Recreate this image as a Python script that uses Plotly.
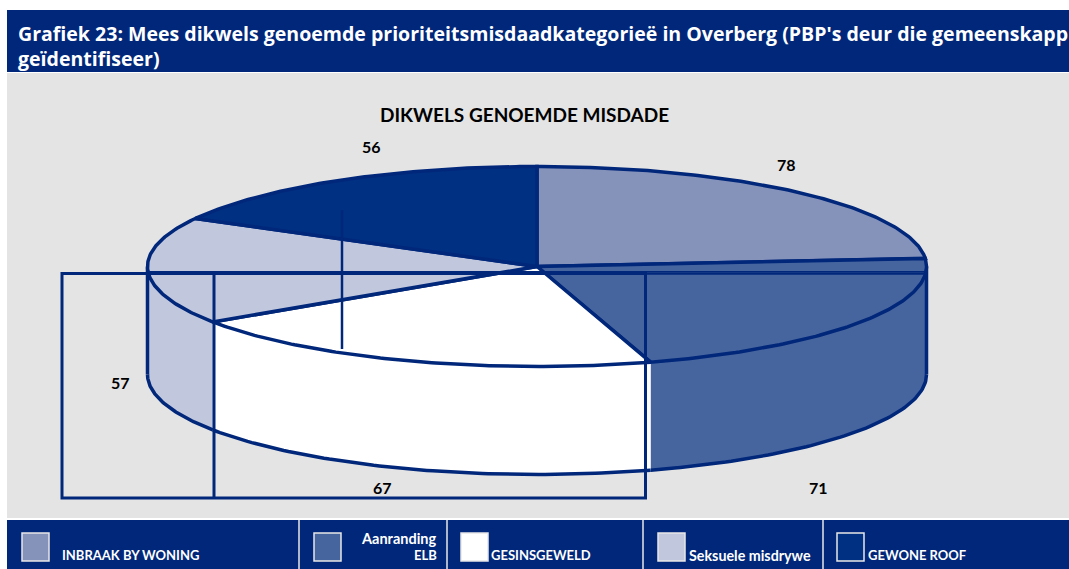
import numpy as np
import plotly.graph_objects as go

categories = ["INBRAAK BY WONING", "Aanranding ELB", "GESINSGEWELD", "Seksuele misdrywe", "GEWONE ROOF"]
values = [78, 71, 67, 57, 56]
colors = ["#8592BA", "#46659F", "#FFFFFF", "#C1C7DD", "#003082"]
title_lines = ["Grafiek 23: Mees dikwels genoemde prioriteitsmisdaadkategorieë in Overberg (PBP's deur die gemeenskapp",
               "geïdentifiseer)"]
chart_title = "DIKWELS GENOEMDE MISDADE"

NAVY = "#00277A"
GREY = "#E4E4E4"
CX, CY, RX, RY, DEPTH = 537, 266.5, 389.5, 100, 108
LW = 3.5

def ell(deg, dy=0):
    r = np.radians(deg)
    return CX + RX * np.sin(r), CY - RY * np.cos(r) + dy

fracs = np.cumsum([0] + values) / sum(values) * 360

fig = go.Figure()

# side walls
for i, c in enumerate(colors):
    a, b = max(fracs[i], 90), min(fracs[i + 1], 270)
    if a >= b:
        continue
    t = np.linspace(a, b, 80)
    xt, yt = ell(t)
    xb, yb = ell(t, DEPTH)
    fig.add_trace(go.Scatter(x=np.r_[xt, xb[::-1], xt[0]], y=np.r_[yt, yb[::-1], yt[0]],
                             mode="lines", fill="toself", fillcolor=c, line=dict(width=0),
                             hoverinfo="skip", showlegend=False))
    fig.add_trace(go.Scatter(x=xb, y=yb, mode="lines", line=dict(color=NAVY, width=LW),
                             hoverinfo="skip", showlegend=False))

# left and right wall edges
for deg in (270, 90):
    x0, y0 = ell(deg)
    x1, y1 = ell(deg, DEPTH)
    fig.add_trace(go.Scatter(x=[x0, x1], y=[y0, y1], mode="lines", line=dict(color=NAVY, width=LW),
                             hoverinfo="skip", showlegend=False))

# top faces
for i, c in enumerate(colors):
    t = np.linspace(fracs[i], fracs[i + 1], 120)
    xt, yt = ell(t)
    fig.add_trace(go.Scatter(x=np.r_[CX, xt, CX], y=np.r_[CY, yt, CY], mode="lines", fill="toself",
                             fillcolor=c, line=dict(color=NAVY, width=LW), name=categories[i],
                             text=f"{categories[i]}: {values[i]}", hoverinfo="text", showlegend=False))

# stray frame lines present in the source picture
fig.add_shape(type="rect", x0=62, y0=273.5, x1=645.5, y1=498, line=dict(color=NAVY, width=3))
fig.add_shape(type="line", x0=214, y0=273.5, x1=214, y1=498, line=dict(color=NAVY, width=3))
fig.add_shape(type="line", x0=342, y0=210, x1=342, y1=349, line=dict(color=NAVY, width=2.5))
fig.add_shape(type="line", x0=645.5, y0=273.5, x1=925, y1=273.5, line=dict(color=NAVY, width=2.5))
fig.add_shape(type="line", x0=147, y0=271.5, x1=925, y1=271.5, line=dict(color=NAVY, width=1))

# panels
shapes_bg = [(7, 10, 1069, 72, NAVY), (7, 73, 1069, 518, GREY), (7, 520, 1069, 569, NAVY)]
for x0, y0, x1, y1, col in shapes_bg:
    fig.add_shape(type="rect", layer="below", x0=x0, y0=y0, x1=x1, y1=y1, fillcolor=col, line=dict(width=0))
for x in (299, 447, 643, 823):
    fig.add_shape(type="line", layer="below", x0=x, y0=520, x1=x, y1=569, line=dict(color="#E8E8E8", width=1.5))

FONT = "Lato"
def txt(x, y, s, size, color="#000000", anchor="center", family=FONT):
    fig.add_annotation(x=x, y=y, text=f"<b>{s}</b>", showarrow=False,
                       xanchor=anchor, yanchor="middle", align=anchor,
                       font=dict(family=family, size=size, color=color))

txt(16, 33, title_lines[0], 19.55, "#FFFFFF", "left", "Open Sans")
txt(16, 58, title_lines[1], 19.55, "#FFFFFF", "left", "Open Sans")
txt(524, 114, chart_title, 19, "#000000")

label_pos = [(786, 164), (818, 487), (382, 487), (120, 382), (371, 146)]
for (x, y), v in zip(label_pos, values):
    txt(x, y, str(v), 16)

# legend
swatches = [22, 314, 461, 658, 837]
for x, c in zip(swatches, colors):
    fig.add_shape(type="rect", x0=x, y0=533, x1=x + 27, y1=561, fillcolor=c,
                  line=dict(color="#E8E8E8", width=1.5))
txt(60, 555, categories[0], 13, "#FFFFFF", "left")
a, b = categories[1].split(" ")
txt(439, 538, a, 14.5, "#FFFFFF", "right")
txt(439, 555, b, 13, "#FFFFFF", "right")
txt(489, 555, categories[2], 13, "#FFFFFF", "left")
txt(687, 555, categories[3], 14.3, "#FFFFFF", "left")
txt(866, 555, categories[4], 13, "#FFFFFF", "left")

fig.update_layout(width=1069, height=569, margin=dict(l=0, r=0, t=0, b=0), paper_bgcolor="#FFFFFF",
                  plot_bgcolor="#FFFFFF", showlegend=False,
                  xaxis=dict(range=[0, 1069], visible=False, fixedrange=True),
                  yaxis=dict(range=[569, 0], visible=False, fixedrange=True))
fig.write_html("out.html", config=dict(displayModeBar=False),
               post_script="document.body.style.margin='0';document.body.style.overflow='hidden';")
